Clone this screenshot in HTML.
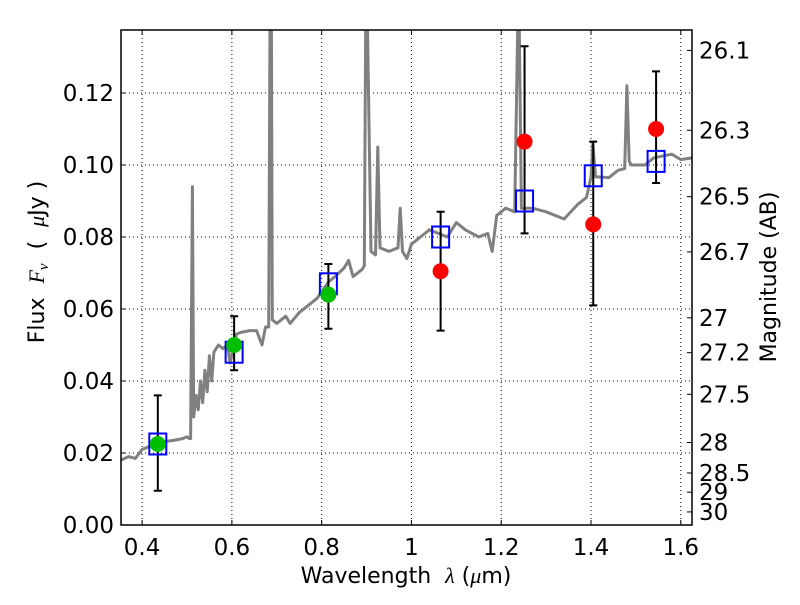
<!DOCTYPE html>
<html><head><meta charset="utf-8"><style>
body{margin:0;background:#fff}
svg text{font-family:"DejaVu Sans","Liberation Sans",sans-serif;fill:#000}
</style></head><body>
<svg id="chart" width="800" height="600" viewBox="0 0 800 600" xmlns="http://www.w3.org/2000/svg">
<rect width="800" height="600" fill="#fff"/>
<g id="grid"></g>
<g id="spec"></g>
<g id="marks"></g>
<g id="axes"></g>
<text x="406" y="583" font-size="22" text-anchor="middle" xml:space="preserve">Wavelength  <tspan font-style="italic" font-family="Liberation Serif">λ</tspan> (<tspan font-style="italic" font-family="Liberation Serif">μ</tspan>m)</text>
<text transform="translate(44,262) rotate(-90)" font-size="22" text-anchor="middle" xml:space="preserve">Flux  <tspan font-style="italic" font-family="Liberation Serif">F</tspan><tspan font-style="italic" font-family="Liberation Serif" font-size="15" dy="4">ν</tspan><tspan dy="-4">  (  </tspan><tspan font-style="italic" font-family="Liberation Serif">μ</tspan>Jy )</text>
<text transform="translate(776,277) rotate(-90)" font-size="22" text-anchor="middle">Magnitude (AB)</text>
</svg>
<script>
const xTicks=[0.4,0.6,0.8,1.0,1.2,1.4,1.6];
const xTickLabels=["0.4","0.6","0.8","1","1.2","1.4","1.6"];
const yTicks=[0,0.02,0.04,0.06,0.08,0.10,0.12];
const yTickLabels=["0.00","0.02","0.04","0.06","0.08","0.10","0.12"];
const magTicks=[26.1,26.3,26.5,26.7,27,27.2,27.5,28,28.5,29,30];
const magLabels=["26.1","26.3","26.5","26.7","27","27.2","27.5","28","28.5","29","30"];
const specX=[0.353,0.37,0.385,0.4,0.42,0.44,0.47,0.49,0.50,0.505,0.508,0.512,0.515,0.52,0.525,0.53,0.535,0.54,0.545,0.55,0.555,0.56,0.57,0.58,0.59,0.596,0.61,0.62,0.64,0.655,0.667,0.675,0.682,0.685,0.688,0.69,0.70,0.72,0.73,0.75,0.77,0.79,0.815,0.83,0.85,0.86,0.87,0.89,0.895,0.898,0.902,0.91,0.92,0.925,0.93,0.95,0.97,0.975,0.98,0.99,1.0,1.02,1.04,1.06,1.08,1.1,1.12,1.15,1.17,1.18,1.19,1.21,1.23,1.237,1.24,1.245,1.25,1.27,1.3,1.34,1.37,1.39,1.40,1.404,1.41,1.415,1.44,1.46,1.475,1.48,1.485,1.49,1.52,1.54,1.58,1.6,1.625];
const specY=[0.018,0.019,0.0185,0.021,0.022,0.023,0.0235,0.024,0.0245,0.024,0.024,0.094,0.030,0.036,0.032,0.040,0.034,0.043,0.037,0.047,0.040,0.048,0.050,0.049,0.050,0.045,0.053,0.0535,0.054,0.054,0.050,0.055,0.055,0.14,0.14,0.057,0.056,0.058,0.056,0.059,0.061,0.063,0.0675,0.069,0.0714,0.0735,0.069,0.071,0.072,0.14,0.14,0.076,0.075,0.105,0.077,0.076,0.077,0.088,0.076,0.074,0.078,0.080,0.082,0.081,0.080,0.084,0.082,0.080,0.081,0.076,0.086,0.088,0.087,0.14,0.14,0.088,0.088,0.088,0.087,0.085,0.089,0.091,0.0967,0.106,0.0967,0.0967,0.0965,0.0985,0.099,0.122,0.101,0.100,0.100,0.102,0.103,0.1015,0.102];
const bandX=[0.435,0.605,0.815,1.065,1.252,1.405,1.545];
const modelFlux=[0.0225,0.048,0.067,0.080,0.090,0.097,0.101];
const errLo=[0.0095,0.043,0.0545,0.054,0.081,0.061,0.095];
const errHi=[0.036,0.058,0.0725,0.087,0.133,0.1065,0.126];
const greenX=[0.435,0.605,0.815];
const greenY=[0.0225,0.050,0.064];
const redX=[1.065,1.252,1.405,1.545];
const redY=[0.0705,0.1065,0.0835,0.110];

const L=121,R=692,T=30,B=525,XMIN=0.353,XMAX=1.625,YMIN=0,YMAX=0.1375;
const sx=v=>L+(v-XMIN)/(XMAX-XMIN)*(R-L);
const sy=v=>B-(v-YMIN)/(YMAX-YMIN)*(B-T);
const NS="http://www.w3.org/2000/svg";
function mk(tag,attrs,parent){const e=document.createElementNS(NS,tag);for(const k in attrs)e.setAttribute(k,attrs[k]);parent.appendChild(e);return e;}
const grid=document.getElementById('grid'),spec=document.getElementById('spec'),marks=document.getElementById('marks'),axes=document.getElementById('axes');
xTicks.forEach((v,i)=>{
 const g=mk('line',{x1:sx(v),x2:sx(v),y1:T,y2:B,stroke:'#000','stroke-width':1,'stroke-dasharray':'1,3'},grid);
 
 
 mk('line',{x1:sx(v),x2:sx(v),y1:B,y2:B-5,stroke:'#000'},axes);
 mk('line',{x1:sx(v),x2:sx(v),y1:T,y2:T+5,stroke:'#000'},axes);
 const t=mk('text',{x:sx(v),y:B+30,'font-size':23,'text-anchor':'middle'},axes);t.textContent=xTickLabels[i];
 
 
});
yTicks.forEach((v,i)=>{
 const g=mk('line',{x1:L,x2:R,y1:sy(v),y2:sy(v),stroke:'#000','stroke-width':1,'stroke-dasharray':'1,3'},grid);
 
 
 mk('line',{x1:L,x2:L+5,y1:sy(v),y2:sy(v),stroke:'#000'},axes);
 const t=mk('text',{x:L-7,y:sy(v)+8,'font-size':23,'text-anchor':'end'},axes);t.textContent=yTickLabels[i];
 
 
});
magTicks.forEach((m,i)=>{
 const f=Math.pow(10,-0.4*(m-23.9));const y=sy(f);
 mk('line',{x1:R,x2:R-5,y1:y,y2:y,stroke:'#000'},axes);
 const t=mk('text',{x:R+7,y:y+8,'font-size':23},axes);t.textContent=magLabels[i];
 
 
});
const sp=mk('path',{d:specX.map((x,i)=>(i?'L':'M')+sx(x).toFixed(1)+','+sy(specY[i]).toFixed(1)).join(''),fill:'none',stroke:'#808080','stroke-width':3,'stroke-linejoin':'round'},spec);


const cp=mk('clipPath',{id:'clip'},document.getElementById('chart'));mk('rect',{x:L,y:T,width:R-L,height:B-T},cp);
spec.setAttribute('clip-path','url(#clip)');
bandX.forEach((x,i)=>{
 const e=mk('path',{d:`M${sx(x)},${sy(errLo[i])}V${sy(errHi[i])}M${sx(x)-4},${sy(errLo[i])}h8M${sx(x)-4},${sy(errHi[i])}h8`,stroke:'#000','stroke-width':2,fill:'none'},marks);
 
 
});
bandX.forEach((x,i)=>{
 const r=mk('rect',{x:sx(x)-8.5,y:sy(modelFlux[i])-10.5,width:17,height:21,fill:'none',stroke:'#0000ff','stroke-width':2},marks);
 
 
});
greenX.forEach((x,i)=>{
 const c=mk('circle',{cx:sx(x),cy:sy(greenY[i]),r:8,fill:'#00bf00'},marks);
 
 
});
redX.forEach((x,i)=>{
 const c=mk('circle',{cx:sx(x),cy:sy(redY[i]),r:8,fill:'#ff0000'},marks);
 
 
});
const fr=mk('rect',{x:L,y:T,width:R-L,height:B-T,fill:'none',stroke:'#000','stroke-width':1.5},axes);


</script>
</body></html>
